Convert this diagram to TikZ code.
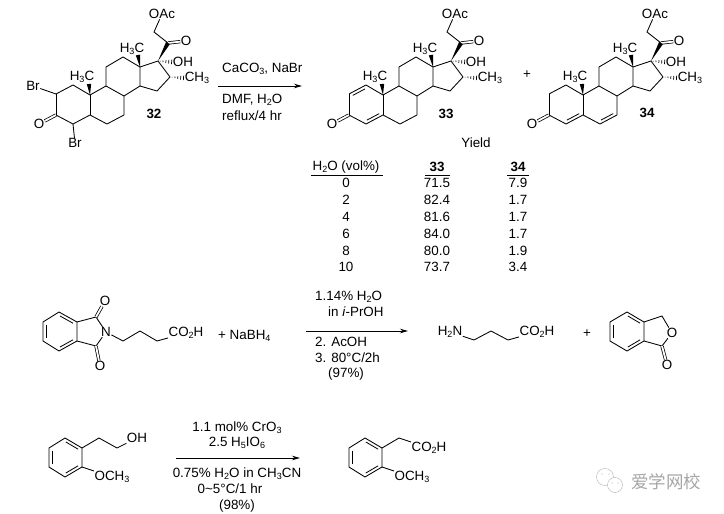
\documentclass[tikz,border=0pt]{standalone}
\usepackage{fontspec}
\usepackage{tikz}
\usetikzlibrary{arrows.meta,calc}
\setmainfont{Liberation Sans}
\newfontfamily\cjk{Noto Sans CJK SC}

\newcommand{\dn}[1]{\raisebox{-.3ex}{\fontsize{9}{9}\selectfont #1}}
% Inner line of a ring double bond (ring centre on the left of a->b)
\newcommand{\ringbond}[2]{\draw[line width=.8pt] ($(#1)!.14!(#2)!3pt!90:(#2)$) -- ($(#1)!.86!(#2)!3pt!90:(#2)$);}
% Solid and hashed stereo bonds
\newcommand{\wedgebond}[2]{\fill (#1) -- ($(#2)!2.2pt!90:(#1)$) -- ($(#2)!2.2pt!-90:(#1)$) -- cycle;}
\newcommand{\hashbond}[2]{\foreach \hpos in {.15,.35,.55,.75,.95}
	{\draw[line width=.7pt] ($(#1)!\hpos!(#2)!\hpos*2.4pt!90:(#2)$) -- ($(#1)!\hpos!(#2)!\hpos*2.4pt!-90:(#2)$);}}

\tikzset{
	bond/.style={line width=.85pt},
	dblbond/.style={line width=.75pt,double,double distance=1.8pt},
	atom/.style={inner sep=.4pt},
	txt/.style={inner sep=0pt,anchor=west},
	ctxt/.style={inner sep=0pt},
	rxnarrow/.style={line width=.85pt,-{Stealth[length=8pt,width=4.5pt]}},
	steroid/.pic={
		% Ring atoms
		\coordinate (c1) at (73,85);
		\coordinate (c2) at (56,94);
		\coordinate (c3) at (56,115);
		\coordinate (c4) at (73,124);
		\coordinate (c5) at (90,115);
		\coordinate (c6) at (107,124);
		\coordinate (c7) at (124,115);
		\coordinate (c8) at (124,96);
		\coordinate (c9) at (106,86);
		\coordinate (c10) at (90,95);
		\coordinate (c11) at (106,67);
		\coordinate (c12) at (123,57);
		\coordinate (c13) at (140,67);
		\coordinate (c14) at (140,86);
		\coordinate (c15) at (157,91);
		\coordinate (c16) at (170,77);
		\coordinate (c17) at (158,61);
		\coordinate (c18) at (138,55);
		\coordinate (c19) at (89,84);
		\coordinate (c20) at (168,43);
		\coordinate (c21) at (154,32);
		% Labels
		\node[atom] (oac) at (162,14) {OAc};
		\node[atom] (oket) at (186,41) {O};
		\node[atom] (oh) at (183,62) {OH};
		\node[atom] (me) at (197,78) {CH\dn{3}};
		\node[atom] (me18) at (132,49) {H\dn{3}C};
		\node[atom] (me19) at (82,77) {H\dn{3}C};
		\node[atom] (o3) at (39,124) {O};
		% Skeleton
		\draw[bond,line join=round] (c2) -- (c1) -- (c10) -- (c9) -- (c8) -- (c7);
		\draw[bond] (c2) -- (c3) (c10) -- (c5);
		\draw[bond,line join=round] (c9) -- (c11) -- (c12) -- (c13) -- (c14) -- (c8);
		\draw[bond,line join=round] (c13) -- (c17) -- (c16) -- (c15) -- (c14);
		\draw[bond] (c20) -- (c21) -- (oac);
		\draw[dblbond] (c20) -- (oket);
		\draw[dblbond] (c3) -- (o3);
		\wedgebond{c13}{c18}
		\wedgebond{c10}{c19}
		\wedgebond{c17}{c20}
		\hashbond{c17}{oh.west}
		\hashbond{c16}{me.west}
	}
}

\begin{document}
\begin{tikzpicture}[x=1pt,y=-1pt,every node/.style={font=\fontsize{13.4}{15}\selectfont}]
	\useasboundingbox (0,0) rectangle (724,514);
	
	% Steroid 32
	\pic (s-) at (0,0) {steroid};
	\draw[bond,line join=round] (s-c3) -- (s-c4) -- (s-c5) -- (s-c6) -- (s-c7);
	\node[atom] (br2) at (33,86) {Br};
	\node[atom] (br4) at (75,143) {Br};
	\draw[bond] (s-c2) -- (br2);
	\draw[bond] (s-c4) -- (br4);
	\node[ctxt] (n32) at (154,114) {\textbf{32}};
	
	% Steroid 33
	\pic (t-) at (293,0) {steroid};
	\draw[bond,line join=round] (t-c3) -- (t-c4) -- (t-c5) -- (t-c6) -- (t-c7);
	\ringbond{t-c1}{t-c2}
	\ringbond{t-c4}{t-c5}
	\node[ctxt] (n33) at (446,114) {\textbf{33}};
	\node[ctxt] (plus1) at (527,75) {+};
	
	% Steroid 34
	\pic (u-) at (493,0) {steroid};
	\draw[bond,line join=round] (u-c3) -- (u-c4) -- (u-c5) -- (u-c6) -- (u-c7);
	\ringbond{u-c4}{u-c5}
	\ringbond{u-c6}{u-c7}
	\node[ctxt] (n34) at (647,113) {\textbf{34}};
	
	% First arrow
	\coordinate (a1s) at (218,86);
	\coordinate (a1e) at (302,86);
	\draw[rxnarrow] (a1s) -- (a1e);
	\node[txt] (r1a) at (222,69) {CaCO\dn{3}, NaBr};
	\node[txt] (r1b) at (222,100) {DMF, H\dn{2}O};
	\node[txt] (r1c) at (222,116) {reflux/4 hr};
	
	% Yield table
	\node[ctxt] (yield) at (476,143) {Yield};
	\node[ctxt] (hvol) at (346,167) {H\dn{2}O (vol\%)};
	\node[ctxt] (h33) at (437,167) {\textbf{33}};
	\node[ctxt] (h34) at (518,167) {\textbf{34}};
	\draw[bond] (311,175) -- (383,175);
	\draw[bond] (425,175) -- (450,175);
	\draw[bond] (507,175) -- (529,175);
	\foreach \rowy/\vol/\ya/\yb in {183/0/71.5/7.9,200/2/82.4/1.7,217/4/81.6/1.7,234/6/84.0/1.7,251/8/80.0/1.9,267/10/73.7/3.4}{
		\node[ctxt] (vol\vol) at (346,\rowy) {\vol};
		\node[ctxt] (ya\vol) at (437,\rowy) {\ya};
		\node[ctxt] (yb\vol) at (518,\rowy) {\yb};
	}
	
	% Phthalimide acid
	\coordinate (p1) at (59,312);
	\coordinate (p2) at (77,322);
	\coordinate (p3) at (77,341);
	\coordinate (p4) at (59,351);
	\coordinate (p5) at (43,341);
	\coordinate (p6) at (43,322);
	\coordinate (pc1) at (96,317);
	\coordinate (pc2) at (96,346);
	\coordinate (pa) at (123,341);
	\coordinate (pb) at (140,331);
	\coordinate (pd) at (157,341);
	\node[atom] (pn) at (106,332) {N};
	\node[atom] (po1) at (105,301) {O};
	\node[atom] (po2) at (100,366) {O};
	\node[atom] (pacid) at (186,333) {CO\dn{2}H};
	\draw[bond,line join=round] (p1) -- (p2) -- (p3) -- (p4) -- (p5) -- (p6) -- cycle;
	\ringbond{p6}{p5}
	\ringbond{p4}{p3}
	\ringbond{p2}{p1}
	\draw[bond] (p2) -- (pc1) -- (pn) -- (pc2) -- (p3);
	\draw[dblbond] (pc1) -- (po1);
	\draw[dblbond] (pc2) -- (po2);
	\draw[bond,line join=round] (pn) -- (pa) -- (pb) -- (pd) -- (pacid);
	\node[txt] (nabh) at (218,336) {+ NaBH\dn{4}};
	
	% Second arrow
	\coordinate (a2s) at (306,331);
	\coordinate (a2e) at (408,331);
	\draw[rxnarrow] (a2s) -- (a2e);
	\node[txt] (r2a) at (315,297) {1.14\% H\dn{2}O};
	\node[txt] (r2b) at (328,312) {in \textit{i}-PrOH};
	\node[txt] (r2c) at (315,342) {2. AcOH};
	\node[txt] (r2d) at (315,358) {3. 80°C/2h};
	\node[txt] (r2e) at (328,374) {(97\%)};
	
	% GABA
	\node[atom] (gn) at (450,332) {H\dn{2}N};
	\node[atom] (gacid) at (537,332) {CO\dn{2}H};
	\coordinate (g1) at (474,340);
	\coordinate (g2) at (491,331);
	\coordinate (g3) at (508,340);
	\draw[bond,line join=round] (gn) -- (g1) -- (g2) -- (g3) -- (gacid);
	\node[ctxt] (plus2) at (587,334) {+};
	
	% Phthalide
	\coordinate (f1) at (627,312);
	\coordinate (f2) at (644,322);
	\coordinate (f3) at (644,341);
	\coordinate (f4) at (627,351);
	\coordinate (f5) at (610,341);
	\coordinate (f6) at (610,322);
	\coordinate (fc1) at (662,316);
	\coordinate (fc2) at (662,346);
	\node[atom] (fo) at (672,333) {O};
	\node[atom] (fko) at (667,365) {O};
	\draw[bond,line join=round] (f1) -- (f2) -- (f3) -- (f4) -- (f5) -- (f6) -- cycle;
	\ringbond{f6}{f5}
	\ringbond{f4}{f3}
	\ringbond{f2}{f1}
	\draw[bond] (f2) -- (fc1) -- (fo) -- (fc2) -- (f3);
	\draw[dblbond] (fc2) -- (fko);
	
	% Methoxyphenyl ethanol
	\coordinate (m1) at (65,438);
	\coordinate (m2) at (82,448);
	\coordinate (m3) at (82,467);
	\coordinate (m4) at (65,477);
	\coordinate (m5) at (49,467);
	\coordinate (m6) at (49,448);
	\coordinate (ma) at (99,438);
	\coordinate (mb) at (117,448);
	\node[atom] (moh) at (137,438) {OH};
	\node[atom] (mome) at (112,477) {OCH\dn{3}};
	\draw[bond,line join=round] (m1) -- (m2) -- (m3) -- (m4) -- (m5) -- (m6) -- cycle;
	\ringbond{m6}{m5}
	\ringbond{m4}{m3}
	\ringbond{m2}{m1}
	\draw[bond,line join=round] (m2) -- (ma) -- (mb) -- (moh);
	\draw[bond] (m3) -- (mome);
	
	% Third arrow
	\coordinate (a3s) at (176,458);
	\coordinate (a3e) at (300,458);
	\draw[rxnarrow] (a3s) -- (a3e);
	\node[ctxt] (r3a) at (237,428) {1.1 mol\% CrO\dn{3}};
	\node[ctxt] (r3b) at (237,443) {2.5 H\dn{5}IO\dn{6}};
	\node[ctxt] (r3c) at (237,474) {0.75\% H\dn{2}O in CH\dn{3}CN};
	\node[ctxt] (r3d) at (230,489) {0\textasciitilde 5°C/1 hr};
	\node[ctxt] (r3e) at (237,506) {(98\%)};
	
	% Methoxyphenyl acetic acid
	\coordinate (q1) at (365,438);
	\coordinate (q2) at (382,448);
	\coordinate (q3) at (382,467);
	\coordinate (q4) at (365,477);
	\coordinate (q5) at (349,467);
	\coordinate (q6) at (349,448);
	\coordinate (qa) at (399,438);
	\node[atom] (qacid) at (429,448) {CO\dn{2}H};
	\node[atom] (qome) at (412,477) {OCH\dn{3}};
	\draw[bond,line join=round] (q1) -- (q2) -- (q3) -- (q4) -- (q5) -- (q6) -- cycle;
	\ringbond{q6}{q5}
	\ringbond{q4}{q3}
	\ringbond{q2}{q1}
	\draw[bond,line join=round] (q2) -- (qa) -- (qacid);
	\draw[bond] (q3) -- (qome);
	
	% Watermark
	\begin{scope}[gray!60,line width=.4pt]
		\draw (605,477) circle (8.5);
		\draw[fill=white] (615,485) circle (7.5);
		\fill (602,474) circle (.7) (609,474) circle (.7) (612,483) circle (.7) (618,483) circle (.7);
	\end{scope}
	\node[ctxt,gray!70] (mark) at (666,482) {\fontsize{17.5}{18}\cjk 爱学网校};
\end{tikzpicture}
\end{document}
